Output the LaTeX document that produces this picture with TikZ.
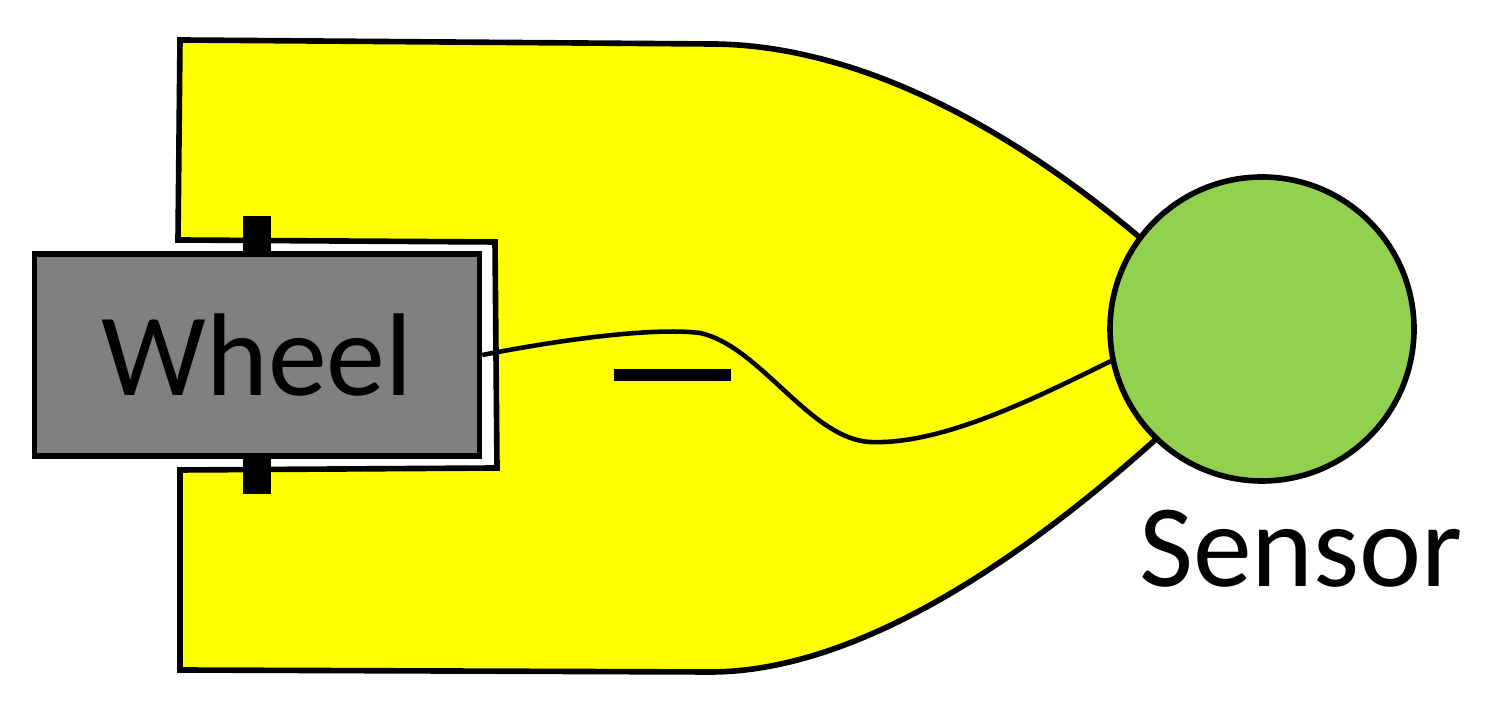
\documentclass[tikz,border=0pt]{standalone}
\usepackage{fontspec}
\setmainfont{Carlito}
\definecolor{padyellow}{HTML}{FFFF00}
\definecolor{sensorgreen}{HTML}{92D050}
\definecolor{wheelgray}{HTML}{808080}
\begin{document}
\begin{tikzpicture}[line join=miter, line cap=butt, line width=1.6pt,
	wheelbox/.style={draw, fill=wheelgray, minimum width=4.45cm, minimum height=2.02cm, inner sep=0pt, font=\fontsize{33.5}{38}\selectfont},
	sensorball/.style={draw, circle, fill=sensorgreen, minimum size=3.04cm, inner sep=0pt},
	tick/.style={fill=black, draw=none}]
	\useasboundingbox (0,0) rectangle (15.02,7.11);
	
	\draw[fill=padyellow] (1.80,6.71) -- (7.10,6.67) .. controls (8.50,6.67) and (10.00,5.91) .. (11.38,4.75) -- (12.62,3.82) -- (11.55,2.71) .. controls (10.10,1.41) and (8.50,0.39) .. (7.10,0.39) -- (1.80,0.41) -- (1.80,2.41) -- (4.97,2.43) -- (4.95,4.69) -- (1.78,4.71) -- cycle;
	\fill[tick] (2.43,4.95) rectangle (2.71,4.55);
	\fill[tick] (2.43,2.55) rectangle (2.71,2.17);
	\node[wheelbox] (wheel) at (2.57,3.56) {Wheel\hspace{0.1cm}};
	\node[sensorball] (sensor) at (12.62,3.82) {};
	\node[font=\fontsize{33.5}{38}\selectfont] (sensorlabel) at (13.01,1.62) {Sensor};
	\draw[line width=0.12cm] (6.14,3.36) -- (7.31,3.36);
	
	\draw[line width=1.3pt] (wheel.east) .. controls (5.8,3.75) and (6.6,3.83) .. (7.00,3.78) .. controls (7.6,3.65) and (8.1,2.72) .. (8.70,2.69) .. controls (9.4,2.66) and (10.3,3.1) .. (sensor.192);
\end{tikzpicture}
\end{document}
